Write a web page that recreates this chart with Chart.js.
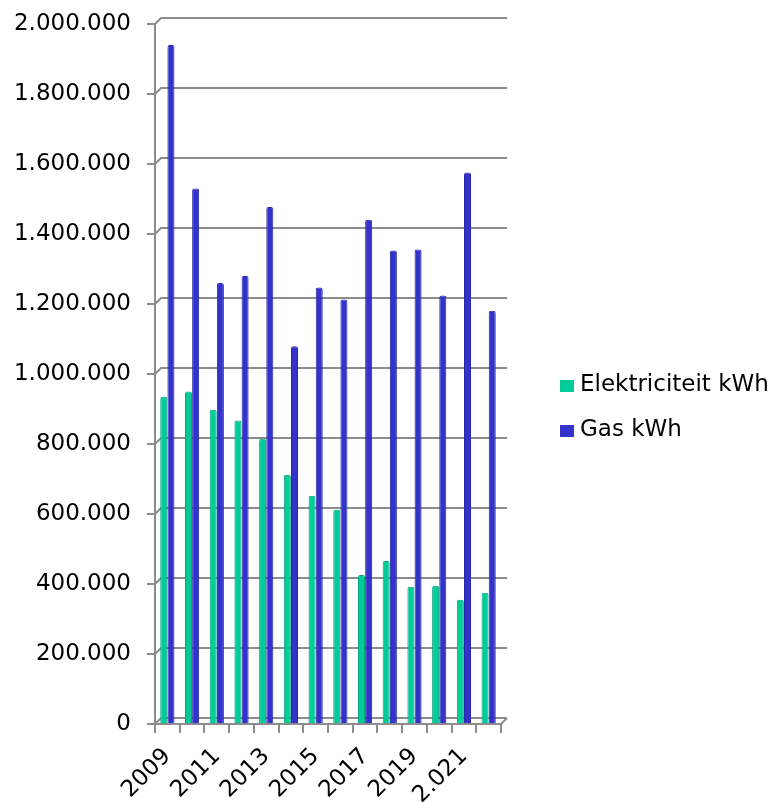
<!DOCTYPE html>
<html lang="nl">
<head>
    <meta charset="UTF-8">
    <title>Energieverbruik</title>
    <script src="https://cdn.jsdelivr.net/npm/chart.js"></script>
    <style>
        body {
            margin: 0;
            background: #fff;
        }
        #wrap {
            width: 771px;
            height: 802px;
        }
    </style>
</head>
<body>
    <div id="wrap">
        <canvas id="energy-chart" width="771" height="802"></canvas>
    </div>

    <script>
        // Years on the x axis (the source writes 2021 as "2.021")
        const years = ['2009', '2010', '2011', '2012', '2013', '2014', '2015',
                       '2016', '2017', '2018', '2019', '2020', '2.021', '2022'];

        // kWh per year
        const elektriciteit = [935000, 950000, 898000, 867000, 815000, 712000, 652000,
                               612000, 426000, 466000, 392000, 395000, 355000, 375000];
        const gas = [1940000, 1530000, 1260000, 1280000, 1477000, 1079000, 1247000,
                     1213000, 1441000, 1353000, 1356000, 1224000, 1576000, 1181000];

        const seriesNames = ['Elektriciteit kWh', 'Gas kWh'];
        const seriesColors = ['#00CC99', '#3333CC'];
        const seriesBorders = ['#00a57c', '#2626a8'];

        // 0 .. 2.000.000 in steps of 200.000
        const yMax = 2000000;
        const yStep = 200000;

        // Dutch style thousands separator
        function formatDots(v) {
            return String(v).replace(/\B(?=(\d{3})+(?!\d))/g, '.');
        }

        const font = "'DejaVu Sans', sans-serif";
        const tickSize = 23;
        const legendSize = 23;
        const gridGray = '#8c8c8c';
        const depth = 6; // fake 3D offset of the back wall

        // back wall gridlines, shifted up/right like the Excel 3D column chart
        const backWall = {
            id: 'backWall',
            beforeDatasetsDraw(chart) {
                const y = chart.scales.y;
                const area = chart.chartArea;
                const c = chart.ctx;
                c.save();
                c.strokeStyle = gridGray;
                c.lineWidth = 2;
                y.ticks.forEach(t => {
                    const py = y.getPixelForValue(t.value);
                    c.beginPath();
                    c.moveTo(area.left, py);
                    c.lineTo(area.left + depth, py - depth);
                    c.lineTo(area.right + depth, py - depth);
                    c.stroke();
                });
                // right end of the floor
                const floor = y.getPixelForValue(0);
                c.beginPath();
                c.moveTo(area.right, floor);
                c.lineTo(area.right + depth, floor - depth);
                c.stroke();
                c.restore();
            }
        };

        // legend drawn by hand: the built-in one gets squeezed on the right
        const sideLegend = {
            id: 'sideLegend',
            afterDraw(chart) {
                const c = chart.ctx;
                c.save();
                c.font = legendSize + 'px ' + font;
                c.textBaseline = 'middle';
                chart.data.datasets.forEach((ds, i) => {
                    const yy = 385 + i * 45;
                    c.fillStyle = ds.backgroundColor;
                    c.fillRect(560, yy - 5, 14, 12);
                    c.fillStyle = '#000';
                    c.fillText(ds.label, 580, yy);
                });
                c.restore();
            }
        };

        const ctx = document.getElementById('energy-chart').getContext('2d');
        const chart = new Chart(ctx, {
            type: 'bar',
            data: {
                labels: years,
                datasets: [{
                    label: seriesNames[0],
                    data: elektriciteit,
                    backgroundColor: seriesColors[0],
                    borderColor: seriesBorders[0],
                    borderWidth: 1,
                    borderRadius: { topLeft: 2, topRight: 2 },
                    borderSkipped: 'bottom'
                }, {
                    label: seriesNames[1],
                    data: gas,
                    backgroundColor: seriesColors[1],
                    borderColor: seriesBorders[1],
                    borderWidth: 1,
                    borderRadius: { topLeft: 2, topRight: 2 },
                    borderSkipped: 'bottom'
                }]
            },
            options: {
                responsive: false,
                animation: false,
                datasets: {
                    bar: {
                        categoryPercentage: 0.58,
                        barPercentage: 0.98
                    }
                },
                layout: {
                    padding: { left: 14, top: 24, right: 270, bottom: 0 }
                },
                plugins: {
                    tooltip: { enabled: false },
                    legend: { display: false }
                },
                scales: {
                    x: {
                        // let the rotated labels hang out to the left, like Excel does
                        afterFit: function(scale) {
                            scale.paddingLeft = 0;
                            scale.paddingRight = 0;
                            scale.height = 78;
                        },
                        grid: {
                            display: true,
                            drawOnChartArea: false,
                            offset: true,
                            color: gridGray,
                            lineWidth: 2,
                            tickLength: 9
                        },
                        border: { color: gridGray, width: 2 },
                        ticks: {
                            autoSkip: false,
                            minRotation: 45,
                            maxRotation: 45,
                            padding: 10,
                            color: '#000',
                            font: { family: font, size: tickSize },
                            callback: function(value, index) {
                                return index % 2 === 0 ? years[index] : '';
                            }
                        }
                    },
                    y: {
                        min: 0,
                        max: yMax,
                        // fixed width so the axis line sits at x = 155
                        afterFit: function(scale) {
                            scale.paddingTop = 0;
                            scale.paddingBottom = 0;
                            scale.width = 141;
                        },
                        grid: {
                            drawOnChartArea: false,
                            color: gridGray,
                            lineWidth: 2,
                            tickLength: 8
                        },
                        border: { color: gridGray, width: 2 },
                        ticks: {
                            stepSize: yStep,
                            padding: 16,
                            color: '#000',
                            font: { family: font, size: tickSize },
                            callback: function(value) {
                                return formatDots(value);
                            }
                        }
                    }
                }
            },
            plugins: [backWall, sideLegend]
        });
    </script>
</body>
</html>
